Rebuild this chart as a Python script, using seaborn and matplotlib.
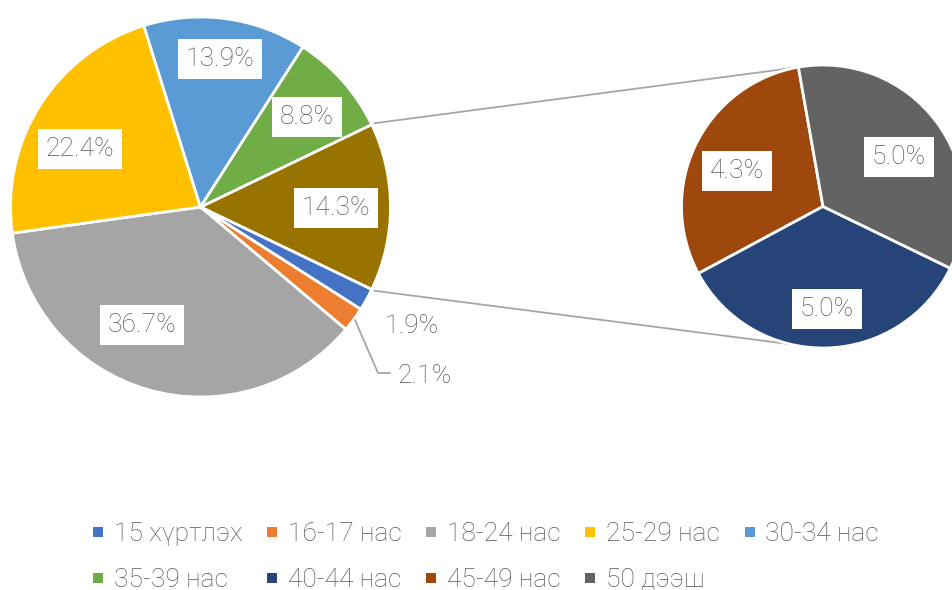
import numpy as np
import matplotlib
matplotlib.use("Agg")
import matplotlib.pyplot as plt
from matplotlib.lines import Line2D
import seaborn as sns

# main pie, clockwise from the "other" wedge on the right
main_labels = ["Бусад", "15 хүртлэх", "16-17 нас", "18-24 нас", "25-29 нас", "30-34 нас", "35-39 нас"]
main_values = [14.3, 1.9, 2.1, 36.7, 22.4, 13.9, 8.8]
main_colors = ["#997300", "#4472C4", "#ED7D31", "#A5A5A5", "#FFC000", "#5B9BD5", "#70AD47"]

# secondary pie (breakdown of the 14.3% wedge), counter-clockwise
sub_labels = ["45-49 нас", "40-44 нас", "50 дээш"]
sub_values = [4.3, 5.0, 5.0]
sub_colors = ["#9E480E", "#264478", "#636363"]

legend_order = ["15 хүртлэх", "16-17 нас", "18-24 нас", "25-29 нас", "30-34 нас",
                "35-39 нас", "40-44 нас", "45-49 нас", "50 дээш"]

W, H = 953, 590
TXT = "#595959"
LINE = "#A6A6A6"

sns.set_theme(style="white")
plt.rcParams["font.family"] = ["Roboto", "DejaVu Sans"]
plt.rcParams["font.weight"] = "light"

fig = plt.figure(figsize=(W / 100, H / 100), dpi=100)
ax = fig.add_axes([0, 0, 1, 1])


def py(y):
    # pixel row (top-down) -> data y
    return H - y


main_c = (200.5, py(207))
main_r = 190
sub_c = (823, py(206.5))
sub_r = 141.5

start = main_values[0] / sum(main_values) * 360 / 2
main_wedges, _ = ax.pie(main_values, colors=main_colors, center=main_c, radius=main_r,
                        startangle=start, counterclock=False,
                        wedgeprops=dict(edgecolor="white", linewidth=2))
sub_wedges, _ = ax.pie(sub_values, colors=sub_colors, center=sub_c, radius=sub_r,
                       startangle=100, counterclock=True,
                       wedgeprops=dict(edgecolor="white", linewidth=2))


def on_circle(c, r, deg):
    a = np.deg2rad(deg)
    return c[0] + r * np.cos(a), c[1] + r * np.sin(a)


# connector lines between the two pies
top_a = on_circle(main_c, main_r + 3, start)
bot_a = on_circle(main_c, main_r + 3, -start)
top_b = on_circle(sub_c, sub_r, 100.4)
bot_b = on_circle(sub_c, sub_r, 256.8)
ax.plot([top_a[0], top_b[0]], [top_a[1], top_b[1]], color=LINE, lw=1.3, zorder=0)
ax.plot([bot_a[0], bot_b[0]], [bot_a[1], bot_b[1]], color=LINE, lw=1.3, zorder=0)

box = dict(boxstyle="square,pad=0.3", facecolor="white", edgecolor="none")
fs = 19

# data label anchors in pixels (Excel best-fit positions)
main_pos = {"Бусад": (336, 208), "18-24 нас": (142, 325), "25-29 нас": (80, 149),
            "30-34 нас": (220, 59), "35-39 нас": (307, 117)}
for lab, val in zip(main_labels, main_values):
    if lab in main_pos:
        x, y = main_pos[lab]
        ax.text(x, py(y), f"{val:.1f}%", ha="center", va="center", fontsize=fs,
                color=TXT, bbox=box)

sub_pos = [(737, 171), (827, 309), (899, 157)]
for (x, y), val in zip(sub_pos, sub_values):
    ax.text(x, py(y), f"{val:.1f}%", ha="center", va="center", fontsize=fs,
            color=TXT, bbox=box)

# small wedges labelled outside
ax.text(412, py(326), f"{main_values[1]:.1f}%", ha="center", va="center",
        fontsize=fs, color=TXT)
ax.text(398, py(376), f"{main_values[2]:.1f}%", ha="left", va="center",
        fontsize=fs, color=TXT)
ax.plot([355, 378, 390], [py(320), py(373), py(373)], color=LINE, lw=1.3)

ax.set_xlim(0, W)
ax.set_ylim(0, H)
ax.set_aspect("equal", adjustable="box")
ax.axis("off")

color_of = dict(zip(main_labels + sub_labels, main_colors + sub_colors))
handles = {lab: Line2D([], [], marker="s", linestyle="none", markersize=6.5,
                       markerfacecolor=color_of[lab], markeredgewidth=0)
           for lab in legend_order}
# matplotlib fills legend columns top-down, so interleave the two rows
row1, row2 = legend_order[:5], legend_order[5:]
order = []
for i in range(5):
    order.append(row1[i])
    if i < len(row2):
        order.append(row2[i])
fig.legend([handles[l] for l in order], order, loc="center",
           bbox_to_anchor=(486 / W, 1 - 557 / H), ncol=5, frameon=False,
           fontsize=fs, labelcolor=TXT, handlelength=0.4, handletextpad=0.4,
           columnspacing=0.92, labelspacing=0.82, borderpad=0, borderaxespad=0)

fig.savefig("out.png", dpi=100, facecolor="white")
